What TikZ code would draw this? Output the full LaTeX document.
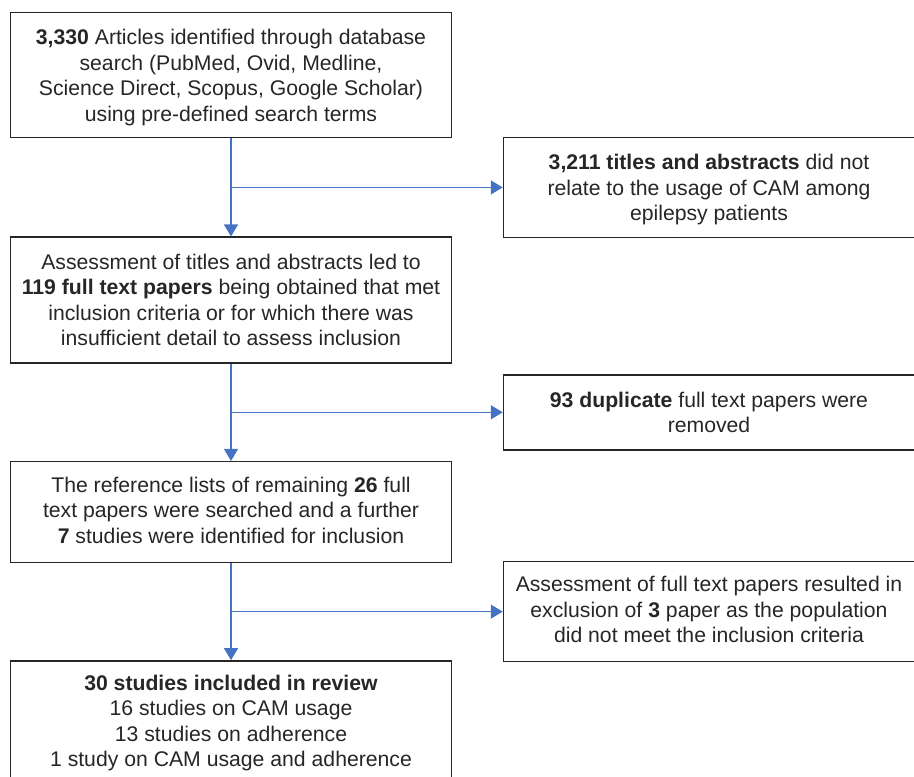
\documentclass[tikz,border=0pt]{standalone}
\usepackage{fontspec}
\setmainfont{Liberation Sans}
\usepackage{tikz}
\usetikzlibrary{arrows.meta,positioning,calc}

\definecolor{flowblue}{HTML}{4472C4}
\definecolor{boxline}{HTML}{262626}

\begin{document}
\begin{tikzpicture}[>={Triangle[length=12pt,width=14pt]},node distance=98pt,
        box/.style={draw=boxline,line width=1.5pt,align=center,text=boxline,inner sep=0pt,
          text depth=0pt,font=\fontsize{21.2pt}{25.5pt}\selectfont},
        mainbox/.style={box,minimum width=441pt},
        sidebox/.style={box,minimum width=411pt,anchor=west},
        flow/.style={->,draw=flowblue,line width=1.3pt}]
        \useasboundingbox (0,0) rectangle (914pt,-777pt);

        \node[mainbox,minimum height=125pt] (search) at (231pt,-75.2pt)
          {\textbf{3,330} Articles identified through database\\ search (PubMed, Ovid, Medline,\\
           Science Direct, Scopus, Google Scholar)\\ using pre-defined search terms};
        \node[mainbox,minimum height=125.7pt] (fulltext) [below = of search]
          {Assessment of titles and abstracts led to\\ \textbf{119 full text papers} being obtained that met\\
           inclusion criteria or for which there was\\ insufficient detail to assess inclusion};
        \node[mainbox,minimum height=100.7pt] (reflist) [below = 97.3pt of fulltext]
          {The reference lists of remaining \textbf{26} full\\ text papers were searched and a further\\
           \textbf{7} studies were identified for inclusion\vspace{4pt}};
        \node[mainbox,minimum height=125pt] (included) [below = 97pt of reflist]
          {\textbf{30 studies included in review}\\ 16 studies on CAM usage\\
           13 studies on adherence\\ 1 study on CAM usage and adherence\vspace{1pt}};

        \node[sidebox,minimum height=100pt] (notrelated) at ($(search.south east)!.5!(fulltext.north east)+(50.5pt,0)$)
          {\textbf{3,211 titles and abstracts} did not\\ relate to the usage of CAM among\\ epilepsy patients};
        \node[sidebox,minimum height=75pt] (duplicate) at ($(fulltext.south east)!.5!(reflist.north east)+(50.5pt,0)$)
          {\textbf{93 duplicate} full text papers were\\ removed};
        \node[sidebox,minimum height=100pt] (excluded) at ($(reflist.south east)!.5!(included.north east)+(50.5pt,0)$)
          {Assessment of full text papers resulted in\\ exclusion of \textbf{3} paper as the population\\
           did not meet the inclusion criteria\vspace{4pt}};

        \coordinate (j1) at (search.south |- notrelated.west);
        \coordinate (j2) at (fulltext.south |- duplicate.west);
        \coordinate (j3) at (reflist.south |- excluded.west);

        \draw[flow] (search) -- (fulltext);
        \draw[flow] (fulltext) -- (reflist);
        \draw[flow] (reflist) -- (included);
        \draw[flow] (j1) -- (notrelated);
        \draw[flow] (j2) -- (duplicate);
        \draw[flow] (j3) -- (excluded);
      \end{tikzpicture}
\end{document}
